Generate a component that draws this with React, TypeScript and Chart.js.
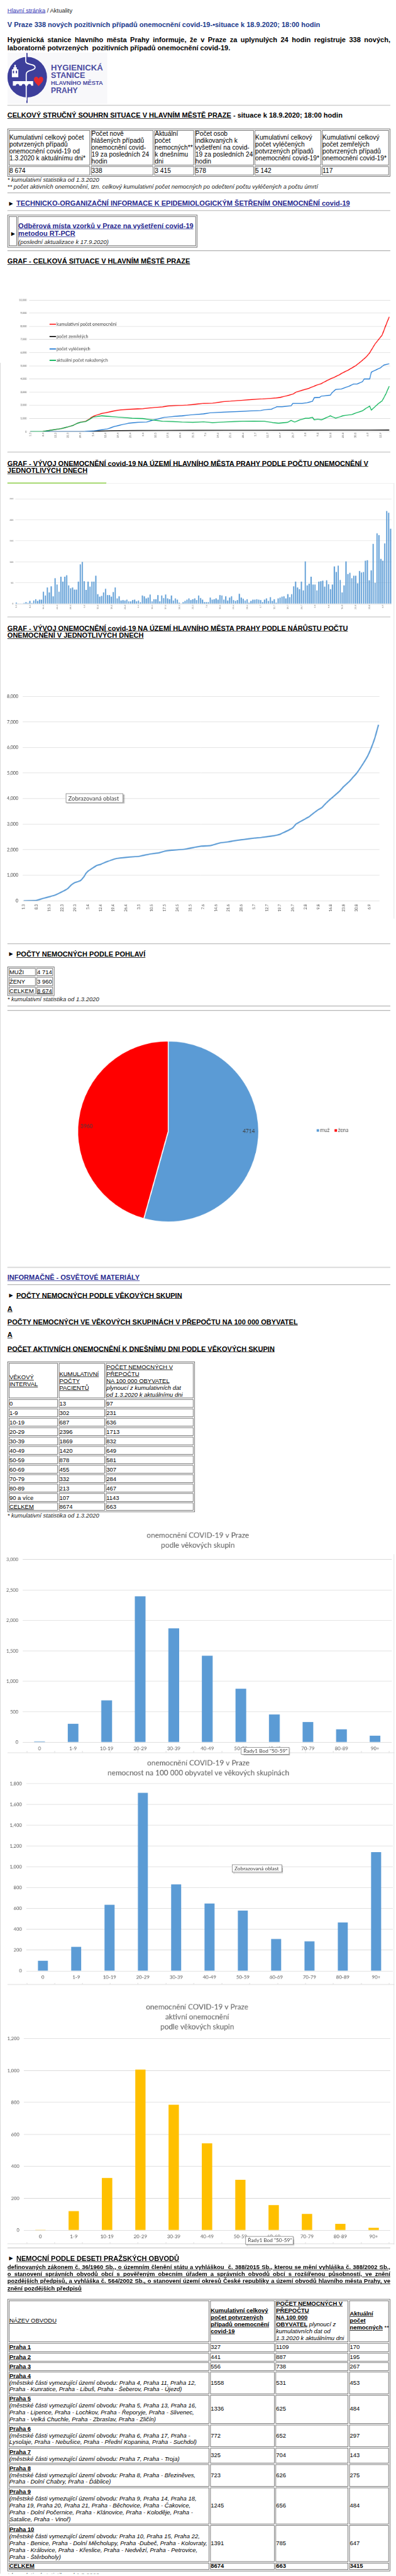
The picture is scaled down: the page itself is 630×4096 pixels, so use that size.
import React, { useEffect, useRef } from 'react';
import { Chart, registerables } from 'chart.js';

Chart.register(...registerables);

const PAGE_SCALE = 0.787;
const PAGE_FONT = '"Liberation Sans", Arial, Helvetica, sans-serif';
const CHART_FONT = 'Lato, "Open Sans", "Liberation Sans", sans-serif';
const NAVY = '#26288f';
const TITLE_BLUE = '#1b3a8c';

// ---------- tick labels (every 7th day from 1.3.) ----------
const weekTicks = ['1.3', '8.3', '15.3', '22.3', '29.3', '5.4', '12.4', '19.4', '26.4', '3.5', '10.5', '17.5', '24.5', '31.5', '7.6', '14.6', '21.6', '28.6', '5.7', '12.7', '19.7', '26.7', '2.8', '9.8', '16.8', '23.8', '30.8', '6.9', '13.9'];

// ---------- chart 1: overall situation (day index from 1.3.) ----------
const cumDays = [0, 7, 10, 14, 17, 21, 24, 26, 28, 31, 33, 34, 35, 37, 40, 42, 44, 46, 49, 51, 56, 60, 63, 67, 70, 74, 77, 81, 84, 88, 91, 94, 97, 102, 105, 108, 112, 115, 119, 122, 126, 130, 133, 137, 140, 142, 145, 147, 149, 151, 154, 156, 158, 161, 163, 165, 168, 170, 173, 175, 178, 180, 182, 185, 188, 190, 193, 197, 199, 201];
const cumValues = [0, 20, 80, 160, 220, 356, 475, 620, 713, 790, 950, 1070, 1150, 1250, 1385, 1425, 1490, 1545, 1620, 1660, 1700, 1725, 1740, 1800, 1840, 1880, 1940, 1980, 1995, 2020, 2060, 2100, 2140, 2160, 2220, 2275, 2310, 2350, 2390, 2415, 2455, 2480, 2510, 2550, 2600, 2670, 2770, 2850, 3010, 3090, 3210, 3290, 3405, 3565, 3645, 3800, 4000, 4120, 4315, 4475, 4670, 4830, 4990, 5305, 5660, 5980, 6650, 7330, 8040, 8720];
const deathDays = [0, 26, 30, 35, 40, 45, 50, 60, 75, 90, 110, 130, 150, 170, 190, 201];
const deathValues = [0, 0, 10, 30, 50, 70, 80, 90, 95, 100, 102, 105, 108, 110, 114, 117];
const recDays = [0, 20, 30, 35, 43, 47, 51, 55, 60, 65, 68, 71, 75, 81, 85, 91, 97, 101, 108, 114, 119, 125, 129, 131, 135, 138, 141, 146, 147, 152, 155, 158, 159, 162, 163, 168, 169, 171, 174, 176, 179, 181, 183, 185, 186, 187, 190, 191, 193, 196, 198, 201];
const recValues = [0, 0, 10, 50, 200, 390, 515, 640, 700, 725, 850, 950, 1080, 1165, 1200, 1290, 1350, 1430, 1480, 1515, 1540, 1580, 1600, 1665, 1700, 1890, 1890, 1955, 2140, 2140, 2200, 2300, 2580, 2600, 2700, 2770, 2960, 3200, 3230, 3330, 3480, 3620, 3620, 3730, 3800, 4000, 4000, 4520, 4650, 4840, 5060, 5150];
const actDays = [0, 7, 10, 14, 17, 21, 24, 26, 28, 31, 33, 35, 40, 46, 51, 57, 63, 68, 74, 80, 85, 91, 97, 102, 108, 114, 119, 125, 131, 136, 139, 144, 146, 148, 151, 154, 156, 158, 159, 161, 163, 168, 171, 175, 180, 183, 186, 188, 190, 191, 193, 195, 197, 199, 201];
const actValues = [0, 20, 80, 160, 220, 356, 475, 620, 700, 770, 920, 1100, 1200, 1140, 1080, 1015, 990, 890, 790, 765, 725, 700, 740, 675, 725, 765, 790, 800, 790, 675, 640, 700, 850, 725, 890, 1015, 1015, 1080, 890, 950, 890, 1200, 1015, 1200, 1300, 1450, 1580, 1770, 1930, 1640, 1890, 2140, 2330, 2830, 3460];

// ---------- chart 2: new cases per day (from 1.3.) ----------
const dailyNew = [
  3, 1, 1, 1, 2, 4, 2, 7, 2, 8,
  11, 7, 10, 10, 29, 20, 39, 27, 42, 18,
  61, 46, 29, 65, 53, 65, 68, 44, 37, 39,
  34, 34, 53, 94, 100, 54, 33, 53, 41, 53,
  53, 67, 23, 17, 19, 27, 36, 21, 21, 17,
  28, 39, 13, 18, 8, 9, 8, 10, 6, 6,
  9, 10, 6, 8, 4, 20, 18, 13, 15, 22,
  6, 11, 11, 21, 6, 20, 14, 22, 13, 11,
  20, 8, 13, 10, 3, 1, 4, 7, 10, 13,
  9, 11, 13, 9, 20, 14, 10, 4, 4, 4,
  15, 10, 11, 13, 10, 21, 20, 10, 18, 8,
  15, 18, 9, 7, 9, 24, 15, 12, 8, 11,
  3, 7, 10, 10, 11, 10, 9, 4, 10, 13,
  7, 16, 7, 11, 3, 13, 15, 17, 18, 13,
  23, 16, 23, 42, 53, 39, 35, 53, 32, 101,
  44, 48, 65, 46, 46, 32, 53, 54, 55, 41,
  56, 47, 35, 46, 89, 76, 91, 57, 27, 44,
  101, 71, 74, 61, 67, 67, 49, 78, 75, 76,
  103, 104, 56, 80, 143, 50, 168, 164, 107, 103,
  144, 221, 217, 179,
];

// ---------- chart 3: cumulative growth ----------
const growthDays = [0, 7, 10, 14, 17, 21, 24, 26, 28, 31, 33, 34, 35, 37, 40, 42, 44, 46, 49, 51, 56, 60, 63, 67, 70, 74, 77, 81, 84, 88, 91, 94, 97, 102, 105, 108, 112, 115, 119, 122, 126, 130, 133, 137, 140, 142, 145, 147, 149, 151, 154, 156, 158, 161, 163, 165, 168, 170, 173, 175, 178, 180, 182, 185, 188, 190, 192, 194];
const growthValues = [0, 20, 80, 160, 220, 356, 475, 620, 713, 790, 950, 1070, 1150, 1250, 1385, 1425, 1490, 1545, 1620, 1660, 1700, 1725, 1740, 1800, 1840, 1880, 1940, 1980, 1995, 2020, 2060, 2100, 2140, 2160, 2220, 2275, 2310, 2350, 2390, 2415, 2455, 2480, 2510, 2550, 2600, 2670, 2770, 2850, 3010, 3090, 3210, 3290, 3405, 3565, 3645, 3800, 4000, 4120, 4315, 4475, 4670, 4830, 4990, 5305, 5660, 5980, 6375, 6890];

// ---------- sex ----------
const sexLabels = ['muž', 'žena'];
const sexValues = [4714, 3960];

// ---------- age ----------
const ageTableGroups = ['0', '1-9', '10-19', '20-29', '30-39', '40-49', '50-59', '60-69', '70-79', '80-89', '90 a více'];
const ageChartLabels = ['0', '1-9', '10-19', '20-29', '30-39', '40-49', '50-59', '60-69', '70-79', '80-89', '90+'];
const ageCases = [13, 302, 687, 2396, 1869, 1420, 878, 455, 332, 213, 107];
const agePer100k = [97, 231, 636, 1713, 832, 649, 581, 307, 284, 467, 1143];
const ageActive = [3, 120, 328, 1006, 786, 545, 316, 157, 102, 40, 15];

// ---------- summary ----------
const summaryValues = ['8 674', '338', '3 415', '578', '5 142', '117'];

// ---------- districts ----------
const districtNames = ['Praha 1', 'Praha 2', 'Praha 3', 'Praha 4', 'Praha 5', 'Praha 6', 'Praha 7', 'Praha 8', 'Praha 9', 'Praha 10'];
const districtParts = [
  [], [], [],
  ['(městské části vymezující území obvodu: Praha 4, Praha 11, Praha 12,', 'Praha - Kunratice, Praha - Libuš, Praha - Šeberov, Praha - Újezd)'],
  ['(městské části vymezující území obvodu: Praha 5, Praha 13, Praha 16,', 'Praha - Lipence, Praha - Lochkov, Praha - Řeporyje, Praha - Slivenec,', 'Praha - Velká Chuchle, Praha - Zbraslav, Praha - Zličín)'],
  ['(městské části vymezující území obvodu: Praha 6, Praha 17, Praha -', 'Lysolaje, Praha - Nebušice, Praha - Přední Kopanina, Praha - Suchdol)'],
  ['(městské části vymezující území obvodu: Praha 7, Praha - Troja)'],
  ['(městské části vymezující území obvodu: Praha 8, Praha - Březiněves,', 'Praha - Dolní Chabry, Praha - Ďáblice)'],
  ['(městské části vymezující území obvodu: Praha 9, Praha 14, Praha 18,', 'Praha 19, Praha 20, Praha 21, Praha - Běchovice, Praha - Čakovice,', 'Praha - Dolní Počernice, Praha - Klánovice, Praha - Koloděje, Praha -', 'Satalice, Praha - Vinoř)'],
  ['(městské části vymezující území obvodu: Praha 10, Praha 15, Praha 22,', 'Praha - Benice, Praha - Dolní Měcholupy, Praha -Dubeč, Praha - Kolovraty,', 'Praha - Královice, Praha - Křeslice, Praha - Nedvězí, Praha - Petrovice,', 'Praha - Štěrboholy)'],
];
const districtCases = [327, 441, 556, 1558, 1336, 772, 325, 723, 1245, 1391];
const districtPer100k = [1109, 887, 738, 531, 625, 652, 704, 626, 656, 785];
const districtActive = [170, 195, 267, 453, 484, 297, 143, 275, 484, 647];

// ================= helpers =================
const xy = (days: number[], vals: number[]) => days.map((d, i) => ({ x: d, y: vals[i] }));

function ChartCanvas({ x, y, w, h, make }: any) {
  const ref = useRef<HTMLCanvasElement>(null);
  useEffect(() => {
    const chart = new Chart(ref.current as HTMLCanvasElement, make());
    return () => chart.destroy();
  }, []);
  return <canvas ref={ref} width={w} height={h} style={{ position: 'absolute', left: x, top: y, width: w, height: h }} />;
}

function T({ x = 15, y, lh = 16, size = 14, bold = false, italic = false, u = false, color = '#000', children, style }: any) {
  return (
    <div style={{ position: 'absolute', left: x, top: y - lh / 2, lineHeight: lh + 'px', fontSize: size, fontWeight: bold ? 700 : 400, fontStyle: italic ? 'italic' : 'normal', textDecoration: u ? 'underline' : 'none', color, whiteSpace: 'nowrap', ...style }}>
      {children}
    </div>
  );
}

function Rule({ y }: any) {
  return <div style={{ position: 'absolute', left: 15, top: y - 1, width: 774, height: 0, borderTop: '1px solid #9c9c9c', borderBottom: '1px solid #e8e8e8' }} />;
}

function Arrow({ y, x = 16 }: any) {
  return <T x={x} y={y} size={13}>►</T>;
}

function lines(arr: any[]) {
  return arr.map((t, i) => <React.Fragment key={i}>{i > 0 && <br />}{t}</React.Fragment>);
}

function Grid({ cols, rows, cells, fontSize = 12, lh = 14, border = '#555' }: any) {
  const nodes: any[] = [];
  nodes.push(<div key="frame" style={{ position: 'absolute', left: cols[0], top: rows[0], width: cols[cols.length - 1] - cols[0], height: rows[rows.length - 1] - rows[0], border: `1px solid ${border}`, boxSizing: 'border-box' }} />);
  for (let r = 0; r < rows.length - 1; r++) {
    for (let c = 0; c < cols.length - 1; c++) {
      const x0 = cols[c] + (c === 0 ? 3 : 1);
      const x1 = cols[c + 1] - (c === cols.length - 2 ? 3 : 1);
      const y0 = rows[r] + (r === 0 ? 3 : 1);
      const y1 = rows[r + 1] - (r === rows.length - 2 ? 3 : 1);
      nodes.push(
        <div key={r + '-' + c} style={{ position: 'absolute', left: x0, top: y0, width: x1 - x0, height: y1 - y0, border: `1px solid ${border}`, boxSizing: 'border-box', display: 'flex', alignItems: 'center', padding: '0 0 0 0', fontSize, lineHeight: lh + 'px', whiteSpace: 'nowrap' }}>
          <div>{cells[r] ? cells[r][c] : null}</div>
        </div>
      );
    }
  }
  return <>{nodes}</>;
}

function Tip({ x, y, w, h, size, children }: any) {
  return (
    <div style={{ position: 'absolute', left: x, top: y, width: w, height: h, boxSizing: 'border-box', border: '1px solid #7f7f7f', background: '#fff', boxShadow: '2px 2px 2px rgba(0,0,0,0.35)', fontFamily: CHART_FONT, fontSize: size, color: '#404040', lineHeight: (h - 2) + 'px', paddingLeft: 4, whiteSpace: 'nowrap' }}>
      {children}
    </div>
  );
}

function AxisStrip({ y }: any) {
  const marks = [54, 110, 166, 222, 278, 335, 391, 448, 504, 561, 617, 673, 730, 786];
  return (
    <>
      <div style={{ position: 'absolute', left: 15, top: y, width: 782, height: 1, background: '#d4d4d4' }} />
      {marks.map((m) => <div key={m} style={{ position: 'absolute', left: m, top: y - 3, width: 1, height: 3, background: '#d4d4d4' }} />)}
    </>
  );
}

// ================= chart configs =================
const baseOpts = (padding: any) => ({
  responsive: false,
  animation: false,
  devicePixelRatio: 1,
  layout: { padding },
});

const c1Legend = {
  id: 'c1Legend',
  afterDraw(chart: any) {
    const { ctx, chartArea } = chart;
    const offs = [49, 74, 99, 122];
    ctx.save();
    ctx.font = `9px ${CHART_FONT}`;
    ctx.textBaseline = 'middle';
    ctx.textAlign = 'left';
    chart.data.datasets.forEach((ds: any, i: number) => {
      const x = chartArea.left + 41;
      const y = chartArea.top + offs[i];
      ctx.strokeStyle = ds.borderColor;
      ctx.lineWidth = 2;
      ctx.beginPath();
      ctx.moveTo(x, y);
      ctx.lineTo(x + 13, y);
      ctx.stroke();
      ctx.fillStyle = '#404040';
      ctx.fillText(ds.label, x + 14, y);
    });
    ctx.restore();
  },
};

function chart1() {
  return {
    type: 'line',
    data: {
      datasets: [
        { label: 'kumulativní počet onemocnění', data: xy(cumDays, cumValues), borderColor: '#ff0000', order: 3 },
        { label: 'počet zemřelých', data: xy(deathDays, deathValues), borderColor: '#000000', order: 2 },
        { label: 'počet vyléčených', data: xy(recDays, recValues), borderColor: '#1e78d2', order: 1 },
        { label: 'aktuální počet nakažených', data: xy(actDays, actValues), borderColor: '#00b050', order: 0 },
      ],
    },
    options: {
      ...baseOpts({ left: 0, right: 8, top: 16, bottom: 0 }),
      elements: { point: { radius: 0 }, line: { borderWidth: 1.6, tension: 0 } },
      plugins: { legend: { display: false }, tooltip: { enabled: false } },
      scales: {
        x: {
          type: 'linear', min: -0.7, max: 201.6,
          afterFit: (s: any) => { s.height = 28; },
          afterBuildTicks: (s: any) => { s.ticks = weekTicks.map((_, i) => ({ value: i * 7 })); },
          grid: { display: false, drawTicks: false }, border: { display: false },
          ticks: { autoSkip: false, minRotation: 90, maxRotation: 90, padding: 2, color: '#595959', font: { family: CHART_FONT, size: 5.5 }, callback: (v: any) => weekTicks[Math.round(v / 7)] },
        },
        y: {
          min: 0, max: 10000,
          afterFit: (s: any) => { s.width = 44; },
          grid: { color: '#dcdcdc', drawTicks: false }, border: { display: false },
          ticks: { stepSize: 1000, padding: 5, color: '#595959', font: { family: CHART_FONT, size: 5 } },
        },
      },
    },
    plugins: [c1Legend],
  };
}

function chart2() {
  return {
    type: 'bar',
    data: { labels: dailyNew.map((_, i) => String(i)), datasets: [{ data: dailyNew, backgroundColor: '#5b9bd5', barPercentage: 0.62, categoryPercentage: 1 }] },
    options: {
      ...baseOpts({ left: 0, right: 4, top: 18, bottom: 0 }),
      plugins: { legend: { display: false }, tooltip: { enabled: false } },
      scales: {
        x: {
          afterFit: (s: any) => { s.height = 20; },
          grid: { display: false, drawTicks: false }, border: { display: false },
          ticks: { autoSkip: false, minRotation: 90, maxRotation: 90, padding: 2, color: '#595959', font: { family: CHART_FONT, size: 4.5 }, callback: (_v: any, i: number) => (i % 7 === 0 ? weekTicks[i / 7] : '') },
        },
        y: {
          min: 0, max: 250,
          afterFit: (s: any) => { s.width = 23; },
          grid: { color: '#e0e0e0', drawTicks: false }, border: { display: false },
          ticks: { stepSize: 50, padding: 4, color: '#595959', font: { family: CHART_FONT, size: 4.5 } },
        },
      },
    },
  };
}

function chart3() {
  return {
    type: 'line',
    data: { datasets: [{ data: xy(growthDays, growthValues), borderColor: '#5b9bd5', borderWidth: 2.6, pointRadius: 0, tension: 0.15 }] },
    options: {
      ...baseOpts({ left: 0, right: 30, top: 107, bottom: 0 }),
      plugins: { legend: { display: false }, tooltip: { enabled: false } },
      scales: {
        x: {
          type: 'linear', min: -0.5, max: 194.5,
          afterFit: (s: any) => { s.height = 30; },
          afterBuildTicks: (s: any) => { s.ticks = weekTicks.map((_, i) => ({ value: i * 7 })).filter((t) => t.value <= 194); },
          grid: { display: false, drawTicks: false }, border: { display: false },
          ticks: { autoSkip: false, minRotation: 90, maxRotation: 90, padding: 7, color: '#404040', font: { family: CHART_FONT, size: 7.5 }, callback: (v: any) => weekTicks[Math.round(v / 7)] },
        },
        y: {
          min: 0, max: 8000,
          afterFit: (s: any) => { s.width = 38; },
          grid: { color: '#d9d9d9', drawTicks: false }, border: { display: false },
          ticks: { stepSize: 1000, padding: 9, color: '#404040', font: { family: CHART_FONT, size: 9 } },
        },
      },
    },
  };
}

const pieDecor = {
  id: 'pieDecor',
  afterDraw(chart: any) {
    const { ctx, chartArea } = chart;
    const meta = chart.getDatasetMeta(0);
    const ds = chart.data.datasets[0];
    const labelPos = [[0.89, 0], [-0.9, -0.055]];
    ctx.save();
    ctx.font = `10.5px ${CHART_FONT}`;
    ctx.fillStyle = '#404040';
    ctx.textAlign = 'center';
    ctx.textBaseline = 'middle';
    meta.data.forEach((arc: any, i: number) => {
      const p = arc.getProps(['x', 'y', 'outerRadius'], true);
      ctx.fillText(String(ds.data[i]), p.x + labelPos[i][0] * p.outerRadius, p.y + labelPos[i][1] * p.outerRadius);
    });
    let lx = chartArea.right + 114;
    const ly = (chartArea.top + chartArea.bottom) / 2 - 2;
    ctx.textAlign = 'left';
    chart.data.labels.forEach((lab: string, i: number) => {
      ctx.fillStyle = ds.backgroundColor[i];
      ctx.fillRect(lx, ly - 2.5, 5, 5);
      ctx.fillStyle = '#595959';
      ctx.fillText(lab, lx + 7, ly);
      lx += 7 + ctx.measureText(lab).width + 10;
    });
    ctx.restore();
  },
};

function pieChart() {
  return {
    type: 'pie',
    data: { labels: sexLabels, datasets: [{ data: sexValues, backgroundColor: ['#5b9bd5', '#ff0000'], borderColor: '#ffffff', borderWidth: 2 }] },
    options: {
      ...baseOpts({ left: 139, right: 271, top: 22, bottom: 30 }),
      plugins: { legend: { display: false }, tooltip: { enabled: false } },
    },
    plugins: [pieDecor],
  };
}

function ageChart(values: number[], color: string, title: string[], yMax: number, yStep: number, o: any) {
  return () => ({
    type: 'bar',
    data: { labels: ageChartLabels, datasets: [{ data: values, backgroundColor: color, barPercentage: o.bar, categoryPercentage: 1 }] },
    options: {
      ...baseOpts({ left: 0, right: o.padR, top: 0, bottom: 0 }),
      plugins: {
        legend: { display: false },
        tooltip: { enabled: false },
        title: { display: true, text: title, color: '#595959', font: { family: CHART_FONT, size: 15, weight: 'normal', lineHeight: 1.333 }, padding: { top: o.tTop, bottom: o.tBot } },
      },
      scales: {
        x: {
          afterFit: (s: any) => { s.height = o.xH; },
          grid: { display: false, drawTicks: false }, border: { display: false },
          ticks: { autoSkip: false, maxRotation: 0, padding: 7, color: '#595959', font: { family: CHART_FONT, size: 10 } },
        },
        y: {
          min: 0, max: yMax,
          afterFit: (s: any) => { s.width = o.yW; },
          grid: { color: '#d9d9d9', drawTicks: false }, border: { display: false },
          ticks: { stepSize: yStep, padding: 9, color: '#595959', font: { family: CHART_FONT, size: 9.5 } },
        },
      },
    },
  });
}

const chart4 = ageChart(ageCases, '#5b9bd5', ['onemocnění COVID-19 v Praze', 'podle věkových skupin'], 3000, 500, { bar: 0.32, padR: 5, tTop: 12, tBot: 19, xH: 22, yW: 38 });
const chart5 = ageChart(agePer100k, '#5b9bd5', ['onemocnění COVID-19 v Praze', 'nemocnost na 100 000 obyvatel ve věkových skupinách'], 1800, 200, { bar: 0.3, padR: 3, tTop: 7, tBot: 12, xH: 28, yW: 45 });
const chart6 = ageChart(ageActive, '#ffc000', ['onemocnění COVID-19 v Praze', 'aktivní onemocnění', 'podle věkových skupin'], 1200, 200, { bar: 0.31, padR: 8, tTop: 10, tBot: 14, xH: 27, yW: 40 });

// ================= logo =================
function Logo() {
  const f = '"Liberation Sans Narrow", "Liberation Sans", Arial, sans-serif';
  return (
    <svg style={{ position: 'absolute', left: 15, top: 106 }} width={202} height={104} viewBox="0 0 202 104">
      <rect x={0} y={0} width={202} height={104} fill="#f8f8fa" />
      <ellipse cx={40} cy={50} rx={40} ry={41} fill="#3d3f9b" />
      <rect x={38.3} y={1} width={2.4} height={101} fill="#3d3f9b" />
      <path d="M37 4 L37 18 C37 26 56 22 56 30 C56 38 38 34 38 44 L38 97" stroke="#ffffff" strokeWidth={2.2} fill="none" />
      <path d="M9 50 L9 34 L12 34 L12 30 L14 30 L14 25 L17 25 L17 30 L19 30 L19 34 L22 34 L22 50 Z" fill="#ffffff" />
      <rect x={11} y={37} width={2.5} height={5} fill="#3d3f9b" />
      <rect x={17} y={37} width={2.5} height={5} fill="#3d3f9b" />
      <path d="M11 58 L52 58 L52 67 L48 67 A3.5 3.5 0 0 0 41 67 L36 67 A3.5 3.5 0 0 0 29 67 L24 67 A3.5 3.5 0 0 0 17 67 L11 67 Z" fill="#ffffff" />
      <path d="M63 68 C56 61 52 57 54 52 C56 48 61 48 63 53 C65 48 70 48 72 52 C74 57 70 61 63 68 Z" fill="#e52a2f" />
      <text x={88} y={36} fontFamily={f} fontWeight="bold" fontSize={17} fill="#4b4ba1" textLength={105} lengthAdjust="spacingAndGlyphs">HYGIENICKÁ</text>
      <text x={88} y={52} fontFamily={f} fontWeight="bold" fontSize={17} fill="#4b4ba1" textLength={69} lengthAdjust="spacingAndGlyphs">STANICE</text>
      <text x={88} y={66} fontFamily={f} fontWeight="bold" fontSize={11.5} fill="#4b4ba1" textLength={105} lengthAdjust="spacingAndGlyphs">HLAVNÍHO MĚSTA</text>
      <text x={88} y={82} fontFamily={f} fontWeight="bold" fontSize={17} fill="#4b4ba1" textLength={54} lengthAdjust="spacingAndGlyphs">PRAHY</text>
    </svg>
  );
}

// ================= page =================
export default function App() {
  const B = ({ children }: any) => <b><u>{children}</u></b>;

  const summaryHeader = [
    ['Kumulativní celkový počet', 'potvrzených případů', 'onemocnění covid-19 od', '1.3.2020 k aktuálnímu dni*'],
    ['Počet nově', 'hlášených případů', 'onemocnění covid-', '19 za posledních 24', 'hodin'],
    ['Aktuální', 'počet', 'nemocných**', 'k dnešnímu', 'dni'],
    ['Počet osob', 'indikovaných k', 'vyšetření na covid-', '19 za posledních 24', 'hodin'],
    ['Kumulativní celkový', 'počet vyléčených', 'potvrzených případů', 'onemocnění covid-19*'],
    ['Kumulativní celkový', 'počet zemřelých', 'potvrzených případů', 'onemocnění covid-19*'],
  ];

  const ageRows = ageTableGroups.map((g, i) => [g, String(ageCases[i]), String(agePer100k[i])]);
  const ageCells = [
    [
      <u>{lines(['VĚKOVÝ', 'INTERVAL'])}</u>,
      <u>{lines(['KUMULATIVNÍ', 'POČTY', 'PACIENTŮ'])}</u>,
      <span><u>{lines(['POČET NEMOCNÝCH V', 'PŘEPOČTU', 'NA 100 000 OBYVATEL'])}</u><br /><i>plynoucí z kumulativních dat</i><br /><i>od 1.3.2020 k aktuálnímu dni</i></span>,
    ],
    ...ageRows,
    [<u>CELKEM</u>, '8674', '663'],
  ];

  const distCells: any[] = [
    [
      <u>NÁZEV OBVODU</u>,
      <B>{lines(['Kumulativní celkový', 'počet potvrzených', 'případů onemocnění', 'covid-19'])}</B>,
      <span><B>{lines(['POČET NEMOCNÝCH V', 'PŘEPOČTU', 'NA 100 000'])}</B><br /><B>OBYVATEL</B><i> plynoucí z</i><br /><i>kumulativních dat od</i><br /><i>1.3.2020 k aktuálnímu dni</i></span>,
      <span><B>{lines(['Aktuální', 'počet', 'nemocných'])}</B> **</span>,
    ],
    ...districtNames.map((n, i) => [
      <span><B>{n}</B>{districtParts[i].length > 0 && <><br /><i>{lines(districtParts[i])}</i></>}</span>,
      String(districtCases[i]),
      String(districtPer100k[i]),
      String(districtActive[i]),
    ]),
    [<B>CELKEM</B>, <b>8674</b>, <b>663</b>, <b>3415</b>],
  ];

  const lawLines = [
    'definovaných zákonem č. 36/1960 Sb., o územním členění státu a vyhláškou\u00a0 č. 388/2015 Sb., kterou se mění vyhláška č. 388/2002 Sb.,',
    'o stanovení správních obvodů obcí s pověřeným obecním úřadem a správních obvodů obcí s rozšířenou působností, ve znění',
    'pozdějších předpisů, a vyhláška č. 564/2002 Sb., o stanovení území okresů České republiky a území obvodů hlavního města Prahy, ve',
  ];

  return (
    <div style={{ position: 'absolute', left: 0, top: 0, width: 800, height: 5200, overflow: 'hidden', transform: `scale(${PAGE_SCALE})`, transformOrigin: '0 0', fontFamily: PAGE_FONT, color: '#000', background: '#fff' }}>
      {/* page side lines */}
      <div style={{ position: 'absolute', left: 0, top: 733, width: 1, height: 4467, background: '#cfcfcf' }} />
      <div style={{ position: 'absolute', left: 796, top: 976, width: 1, height: 880, background: '#dedede' }} />
      <div style={{ position: 'absolute', left: 796, top: 3140, width: 1, height: 1395, background: '#dedede' }} />

      {/* header */}
      <T y={21} size={12} lh={14}><span style={{ color: '#3535b5', textDecoration: 'underline' }}>Hlavní stránka</span><span style={{ color: '#222' }}> / Aktuality</span></T>
      <T y={50} bold color={TITLE_BLUE}>V Praze 338 nových pozitivních případů onemocnění covid-19-•situace k 18.9.2020; 18:00 hodin</T>
      <div style={{ position: 'absolute', left: 15, top: 80 - 8.5, width: 774, fontSize: 14, fontWeight: 700, lineHeight: '17px' }}>
        <div style={{ textAlign: 'justify', textAlignLast: 'justify' }}>Hygienická stanice hlavního města Prahy informuje, že v Praze za uplynulých 24 hodin registruje 338 nových,</div>
        <div style={{ whiteSpace: 'nowrap' }}>laboratorně potvrzených{'\u00a0 '}pozitivních případů onemocnění covid-19.</div>
      </div>
      <Logo />
      <Rule y={213} />

      <T y={233} bold><u>CELKOVÝ STRUČNÝ SOUHRN SITUACE V HLAVNÍM MĚSTĚ PRAZE</u> - situace k 18.9.2020; 18:00 hodin</T>
      <Grid cols={[15, 183, 311, 393, 514, 650, 789]} rows={[260, 335, 357]} fontSize={13} lh={14}
        cells={[summaryHeader.map((h) => lines(h)), summaryValues]} />
      <T y={363} size={12} lh={14} italic color="#222">* kumulativní statistika od 1.3.2020</T>
      <T y={377} size={12} lh={14} italic color="#222">** počet aktivních onemocnění, tzn. celkový kumulativní počet nemocných po odečtení počtu vyléčených a počtu úmrtí</T>
      <Rule y={390} />
      <Arrow y={411} />
      <T x={33} y={411} bold u color={NAVY}>TECHNICKO-ORGANIZAČNÍ INFORMACE K EPIDEMIOLOGICKÝM ŠETŘENÍM ONEMOCNĚNÍ covid-19</T>
      <Rule y={426} />

      <Grid cols={[15, 35, 399]} rows={[434, 500]} cells={[[null, null]]} />
      <Arrow x={20} y={472} />
      <T x={37} y={456} bold u color={NAVY}>Odběrová místa vzorků v Praze na vyšetření covid-19</T>
      <T x={37} y={472} bold u color={NAVY}>metodou RT-PCR</T>
      <T x={37} y={489} size={12} lh={14} italic color="#222">(poslední aktualizace k 17.9.2020)</T>
      <Rule y={507} />

      <T y={528} bold u>GRAF - CELKOVÁ SITUACE V HLAVNÍM MĚSTĚ PRAZE</T>
      <ChartCanvas x={15} y={590} w={782} h={310} make={chart1} />
      <Rule y={914} />

      <T y={936} bold u>GRAF - VÝVOJ ONEMOCNĚNÍ covid-19 NA ÚZEMÍ HLAVNÍHO MĚSTA PRAHY PODLE POČTU ONEMOCNĚNÍ V</T>
      <T y={951} bold u>JEDNOTLIVÝCH DNECH</T>
      <div style={{ position: 'absolute', left: 15, top: 975, width: 200, height: 2, background: '#92d050' }} />
      <div style={{ position: 'absolute', left: 215, top: 976, width: 582, height: 1, background: '#ececec' }} />
      <ChartCanvas x={8} y={990} w={789} h={250} make={chart2} />
      <Rule y={1247} />

      <T y={1269} bold u>GRAF - VÝVOJ ONEMOCNĚNÍ covid-19 NA ÚZEMÍ HLAVNÍHO MĚSTA PRAHY PODLE NÁRŮSTU POČTU</T>
      <T y={1284} bold u>ONEMOCNĚNÍ V JEDNOTLIVÝCH DNECH</T>
      <ChartCanvas x={8} y={1300} w={789} h={550} make={chart3} />
      <Tip x={133} y={1603} w={116} h={19} size={12}>Zobrazovaná oblast</Tip>

      <Rule y={1907} />
      <Arrow y={1928} />
      <T x={33} y={1928} bold u>POČTY NEMOCNÝCH PODLE POHLAVÍ</T>
      <Grid cols={[15, 73, 110]} rows={[1953, 1973, 1993, 2012]} fontSize={12} lh={14}
        cells={[['MUŽI', '4 714'], ['ŽENY', '3 960'], ['CELKEM', <u>8 674</u>]]} />
      <T y={2019} size={12} lh={14} italic color="#222">* kumulativní statistika od 1.3.2020</T>
      <Rule y={2033} />
      <Rule y={2042} />
      <ChartCanvas x={15} y={2080} w={782} h={420} make={pieChart} />

      <Rule y={2561} />
      <T y={2581} bold u color={NAVY}>INFORMAČNĚ - OSVĚTOVÉ MATERIÁLY</T>
      <Rule y={2596} />
      <Arrow y={2617} />
      <T x={33} y={2617} bold u>POČTY NEMOCNÝCH PODLE VĚKOVÝCH SKUPIN</T>
      <T y={2644} bold u>A</T>
      <T y={2671} bold u>POČTY NEMOCNÝCH VE VĚKOVÝCH SKUPINÁCH V PŘEPOČTU NA 100 000 OBYVATEL</T>
      <T y={2697} bold u>A</T>
      <T y={2725} bold u>POČET AKTIVNÍCH ONEMOCNĚNÍ K DNEŠNÍMU DNI PODLE VĚKOVÝCH SKUPIN</T>
      <Grid cols={[15, 118, 213, 394]} rows={[2751, 2826, 2845, 2864, 2883, 2902, 2921, 2940, 2959, 2978, 2997, 3016, 3035, 3055]} fontSize={12} lh={14} cells={ageCells} />
      <T y={3062} size={12} lh={14} italic color="#222">* kumulativní statistika od 1.3.2020</T>

      <ChartCanvas x={8} y={3080} w={789} h={462} make={chart4} />
      <AxisStrip y={3541} />
      <Tip x={487} y={3530} w={98} h={15} size={10.5}>Řady1 Bod "50-59"</Tip>

      <ChartCanvas x={8} y={3545} w={789} h={465} make={chart5} />
      <Tip x={469} y={3767} w={101} h={16} size={10.5}>Zobrazovaná oblast</Tip>
      <AxisStrip y={4009} />

      <ChartCanvas x={8} y={4035} w={789} h={498} make={chart6} />
      <AxisStrip y={4533} />
      <Tip x={496} y={4518} w={97} h={17} size={10.5}>Řady1 Bod "50-59"</Tip>

      <Rule y={4542} />
      <Arrow y={4563} />
      <T x={33} y={4563} bold u>NEMOCNÍ PODLE DESETI PRAŽSKÝCH OBVODŮ</T>
      <div style={{ position: 'absolute', left: 15, top: 4581 - 7.15, width: 774, fontSize: 12, fontWeight: 700, lineHeight: '14.3px', textDecoration: 'underline' }}>
        {lawLines.map((l, i) => <div key={i} style={{ textAlign: 'justify', textAlignLast: 'justify' }}>{l}</div>)}
        <div>znění pozdějších předpisů</div>
      </div>
      <Grid cols={[15, 424, 556, 705, 789]} rows={[4645, 4733, 4753, 4772, 4791, 4838, 4898, 4945, 4978, 5025, 5101, 5177, 5195]} fontSize={12} lh={13.9} cells={distCells} />
      <T y={5203} size={12} lh={14} italic color="#222">* kumulativní statistika od 1.3.2020</T>
    </div>
  );
}
